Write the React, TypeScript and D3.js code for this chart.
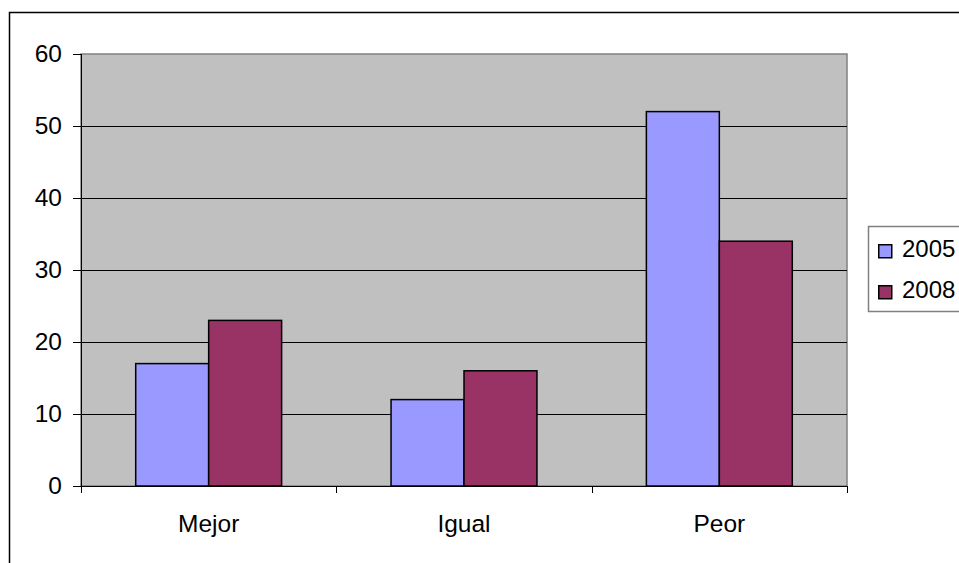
import React from 'react';
import * as d3 from 'd3';

const categories = ['Mejor', 'Igual', 'Peor'];
const seriesNames = ['2005', '2008'];
const values2005 = [17, 12, 52];
const values2008 = [23, 16, 34];
const yTicks = [0, 10, 20, 30, 40, 50, 60];
const colors = ['#9999FF', '#993366'];

const W = 959;
const H = 563;
const plot = { left: 81, right: 847, top: 54, bottom: 486 };

const App: React.FC = () => {
  const series = [values2005, values2008];

  const x = d3
    .scaleBand()
    .domain(categories)
    .range([plot.left, plot.right]);

  const y = d3.scaleLinear().domain([0, 60]).range([plot.bottom, plot.top]);

  // excel style: gap width 150% -> each bar = band / 3.5
  const barW = x.bandwidth() / 3.5;
  const font = '"Liberation Sans", Arial, sans-serif';

  return (
    <svg
      width={W}
      height={H}
      style={{ position: 'absolute', left: 0, top: 0, background: '#fff' }}
    >
      {/* chart area border */}
      <rect x={9.5} y={12.5} width={W + 10} height={H + 10} fill="#fff" stroke="#000" strokeWidth={1.5} />

      {/* plot area */}
      <rect
        x={plot.left}
        y={plot.top}
        width={plot.right - plot.left}
        height={plot.bottom - plot.top}
        fill="#C0C0C0"
        stroke="#808080"
        strokeWidth={1.5}
      />

      {/* gridlines */}
      {yTicks.slice(1, -1).map((t) => (
        <line
          key={'g' + t}
          x1={plot.left}
          x2={plot.right}
          y1={Math.round(y(t)) + 0.5}
          y2={Math.round(y(t)) + 0.5}
          stroke="#000"
          strokeWidth={1}
        />
      ))}

      {/* bars */}
      {categories.map((c, i) =>
        series.map((vals, s) => {
          const x0 = (x(c) as number) + x.bandwidth() / 2 - barW + s * barW;
          return (
            <rect
              key={c + s}
              x={x0}
              y={y(vals[i])}
              width={barW}
              height={y(0) - y(vals[i])}
              fill={colors[s]}
              stroke="#000"
              strokeWidth={1.5}
            />
          );
        })
      )}

      {/* y axis */}
      <line x1={plot.left + 0.5} x2={plot.left + 0.5} y1={plot.top} y2={plot.bottom} stroke="#000" strokeWidth={1} />
      {yTicks.map((t) => (
        <g key={'y' + t}>
          <line
            x1={plot.left - 8}
            x2={plot.left}
            y1={Math.round(y(t)) + 0.5}
            y2={Math.round(y(t)) + 0.5}
            stroke="#000"
          />
          <text
            x={plot.left - 19}
            y={y(t) - 1}
            dy="0.36em"
            textAnchor="end"
            fontFamily={font}
            fontSize={24.5}
            fill="#000"
          >
            {t}
          </text>
        </g>
      ))}

      {/* x axis */}
      <line x1={plot.left} x2={plot.right} y1={plot.bottom + 0.5} y2={plot.bottom + 0.5} stroke="#000" />
      {[...categories.map((c) => x(c) as number), plot.right].map((v, i) => (
        <line
          key={'xt' + i}
          x1={Math.round(v) + 0.5}
          x2={Math.round(v) + 0.5}
          y1={plot.bottom}
          y2={plot.bottom + 7}
          stroke="#000"
        />
      ))}
      {categories.map((c) => (
        <text
          key={'xl' + c}
          x={(x(c) as number) + x.bandwidth() / 2}
          y={532}
          textAnchor="middle"
          fontFamily={font}
          fontSize={24.5}
          fill="#000"
        >
          {c}
        </text>
      ))}

      {/* legend */}
      <rect x={868.5} y={226.5} width={110} height={85} fill="#fff" stroke="#808080" strokeWidth={1.5} />
      {seriesNames.map((n, i) => (
        <g key={n} transform={`translate(878, ${244 + i * 41})`}>
          <rect x={0.75} y={0.75} width={13} height={13} fill={colors[i]} stroke="#000" strokeWidth={1.5} />
          <text x={24} y={13} fontFamily={font} fontSize={24} fill="#000">
            {n}
          </text>
        </g>
      ))}
    </svg>
  );
};

export default App;
